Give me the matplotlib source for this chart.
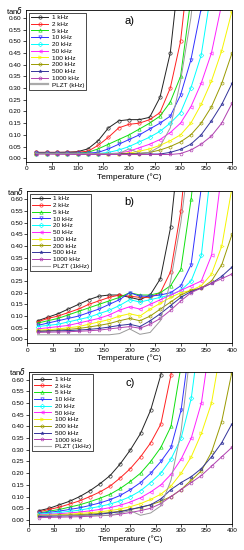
import numpy as np
import matplotlib
matplotlib.use("Agg")
import matplotlib.pyplot as plt

plt.rcParams['font.family'] = ['Liberation Sans', 'DejaVu Sans']

# Temperature grid (deg C), shared by every curve; shorter lists stop early
temps = [20, 40, 60, 80, 100, 120, 140, 160, 180, 200,
         220, 240, 260, 280, 300, 320, 340, 360, 380, 400]

freqLabels = ["1 kHz", "2 kHz", "5 kHz", "10 kHz", "20 kHz", "50 kHz",
              "100 kHz", "200 kHz", "500 kHz", "1000 kHz"]
plztLabels = ["PLZT (kHz)", "PLZT (1kHz)", "PLZT (1kHz)"]
panelNames = ["a)", "b)", "c)"]

# Panel a
a1k = [0.025, 0.025, 0.025, 0.026, 0.028, 0.040, 0.075, 0.130, 0.160, 0.165, 0.165, 0.175, 0.260, 0.450, 0.850]
a2k = [0.025, 0.025, 0.025, 0.025, 0.026, 0.030, 0.055, 0.090, 0.130, 0.145, 0.150, 0.165, 0.195, 0.300, 0.500, 0.900]
a5k = [0.022, 0.022, 0.022, 0.022, 0.022, 0.025, 0.040, 0.060, 0.080, 0.100, 0.125, 0.150, 0.180, 0.240, 0.350, 0.680]
a10k = [0.022, 0.022, 0.022, 0.022, 0.022, 0.022, 0.025, 0.040, 0.060, 0.080, 0.100, 0.125, 0.150, 0.180, 0.270, 0.420, 0.640]
a20k = [0.020, 0.020, 0.020, 0.020, 0.020, 0.020, 0.020, 0.025, 0.035, 0.050, 0.070, 0.090, 0.115, 0.150, 0.195, 0.300, 0.440, 0.720]
a50k = [0.020, 0.020, 0.020, 0.020, 0.020, 0.020, 0.020, 0.020, 0.022, 0.030, 0.045, 0.060, 0.080, 0.110, 0.150, 0.220, 0.320, 0.450, 0.660]
a100k = [0.020, 0.020, 0.020, 0.020, 0.020, 0.020, 0.020, 0.020, 0.020, 0.022, 0.030, 0.040, 0.055, 0.075, 0.100, 0.150, 0.230, 0.330, 0.460, 0.630]
a200k = [0.020, 0.020, 0.020, 0.020, 0.020, 0.020, 0.020, 0.020, 0.020, 0.020, 0.020, 0.025, 0.035, 0.050, 0.070, 0.100, 0.150, 0.220, 0.320, 0.450]
a500k = [0.020, 0.020, 0.020, 0.019, 0.019, 0.018, 0.018, 0.018, 0.018, 0.018, 0.018, 0.018, 0.018, 0.025, 0.038, 0.060, 0.100, 0.160, 0.230, 0.320]
a1000k = [0.018, 0.018, 0.017, 0.017, 0.016, 0.016, 0.016, 0.016, 0.016, 0.016, 0.016, 0.016, 0.016, 0.016, 0.020, 0.035, 0.060, 0.095, 0.150, 0.235]
aPlzt = [0.020, 0.020, 0.020, 0.020, 0.020, 0.020, 0.020, 0.020, 0.020, 0.040, 0.022, 0.025, 0.050, 0.130, 0.330, 0.600, 1.000]

# Panel b
b1k = [0.080, 0.095, 0.110, 0.130, 0.150, 0.170, 0.185, 0.190, 0.190, 0.180, 0.170, 0.190, 0.260, 0.480, 0.900]
b2k = [0.075, 0.090, 0.100, 0.115, 0.130, 0.150, 0.165, 0.180, 0.190, 0.185, 0.180, 0.180, 0.200, 0.290, 0.550, 1.000]
b5k = [0.070, 0.080, 0.090, 0.105, 0.120, 0.135, 0.150, 0.165, 0.180, 0.200, 0.190, 0.190, 0.200, 0.230, 0.300, 0.600, 1.000]
b10k = [0.060, 0.070, 0.080, 0.090, 0.100, 0.115, 0.130, 0.150, 0.170, 0.200, 0.185, 0.185, 0.190, 0.200, 0.230, 0.320, 0.650]
b20k = [0.055, 0.060, 0.065, 0.075, 0.085, 0.095, 0.110, 0.125, 0.145, 0.170, 0.160, 0.170, 0.180, 0.190, 0.210, 0.250, 0.360, 0.750]
b50k = [0.045, 0.050, 0.055, 0.060, 0.070, 0.080, 0.090, 0.105, 0.125, 0.140, 0.130, 0.150, 0.170, 0.190, 0.210, 0.230, 0.250, 0.360, 0.720]
b100k = [0.040, 0.042, 0.045, 0.050, 0.055, 0.065, 0.075, 0.085, 0.100, 0.110, 0.100, 0.130, 0.155, 0.180, 0.200, 0.210, 0.230, 0.280, 0.400, 0.650]
b200k = [0.035, 0.037, 0.040, 0.043, 0.047, 0.053, 0.060, 0.068, 0.080, 0.090, 0.080, 0.100, 0.130, 0.160, 0.190, 0.210, 0.220, 0.250, 0.320, 0.450]
b500k = [0.035, 0.036, 0.037, 0.038, 0.040, 0.043, 0.047, 0.053, 0.060, 0.065, 0.055, 0.080, 0.110, 0.145, 0.180, 0.205, 0.220, 0.240, 0.270, 0.310]
b1000k = [0.030, 0.031, 0.032, 0.033, 0.035, 0.037, 0.040, 0.045, 0.050, 0.055, 0.048, 0.065, 0.090, 0.125, 0.165, 0.200, 0.220, 0.240, 0.260, 0.280]
bPlzt = [0.020, 0.020, 0.020, 0.020, 0.020, 0.020, 0.020, 0.020, 0.025, 0.045, 0.022, 0.030, 0.080, 0.250, 0.500, 0.850]

# Panel c
c1k = [0.040, 0.050, 0.065, 0.080, 0.100, 0.125, 0.155, 0.190, 0.240, 0.300, 0.370, 0.470, 0.620, 0.900]
c2k = [0.035, 0.045, 0.055, 0.068, 0.082, 0.100, 0.120, 0.145, 0.180, 0.220, 0.270, 0.330, 0.410, 0.620, 1.000]
c5k = [0.030, 0.038, 0.045, 0.055, 0.065, 0.078, 0.093, 0.110, 0.135, 0.165, 0.200, 0.250, 0.310, 0.400, 0.660, 1.000]
c10k = [0.028, 0.033, 0.038, 0.045, 0.052, 0.062, 0.073, 0.087, 0.105, 0.130, 0.160, 0.200, 0.250, 0.310, 0.470, 0.800]
c20k = [0.025, 0.028, 0.032, 0.037, 0.042, 0.050, 0.058, 0.068, 0.082, 0.100, 0.125, 0.160, 0.200, 0.260, 0.350, 0.520, 0.850]
c50k = [0.022, 0.024, 0.027, 0.030, 0.034, 0.039, 0.045, 0.053, 0.063, 0.077, 0.095, 0.120, 0.150, 0.195, 0.260, 0.350, 0.500, 0.800]
c100k = [0.020, 0.021, 0.023, 0.025, 0.028, 0.031, 0.035, 0.040, 0.047, 0.057, 0.070, 0.088, 0.110, 0.145, 0.200, 0.270, 0.370, 0.500, 0.750]
c200k = [0.018, 0.019, 0.020, 0.021, 0.023, 0.025, 0.028, 0.032, 0.038, 0.045, 0.053, 0.065, 0.080, 0.100, 0.130, 0.170, 0.210, 0.290, 0.420, 0.630]
c500k = [0.015, 0.016, 0.017, 0.018, 0.019, 0.021, 0.025, 0.030, 0.035, 0.045, 0.055, 0.065, 0.090, 0.130, 0.160, 0.185, 0.220, 0.270, 0.330, 0.410]
c1000k = [0.010, 0.011, 0.012, 0.013, 0.014, 0.016, 0.018, 0.020, 0.025, 0.032, 0.040, 0.050, 0.070, 0.100, 0.130, 0.160, 0.190, 0.230, 0.270, 0.310]
cPlzt = [0.020, 0.020, 0.020, 0.020, 0.020, 0.020, 0.020, 0.020, 0.030, 0.040, 0.020, 0.030, 0.060, 0.170, 0.380, 0.750]

panelData = [
    [a1k, a2k, a5k, a10k, a20k, a50k, a100k, a200k, a500k, a1000k, aPlzt],
    [b1k, b2k, b5k, b10k, b20k, b50k, b100k, b200k, b500k, b1000k, bPlzt],
    [c1k, c2k, c5k, c10k, c20k, c50k, c100k, c200k, c500k, c1000k, cPlzt],
]

colors = ["#222222", "#ff2020", "#10e010", "#3030ff", "#00ffff", "#ff20ff",
          "#f5f500", "#9a9a00", "#33339a", "#b040b0"]
markers = ["o", "o", "^", "v", "D", "<", ">", "h", "*", "p"]

# axes rectangles in figure fraction
boxes = [
    [0.107, 0.7055, 0.844, 0.276],
    [0.112, 0.376, 0.839, 0.276],
    [0.119, 0.0478, 0.831, 0.276],
]


def drawPanel(ax, curves, plztLabel, name, thickPlzt):
    for i, vals in enumerate(curves[:10]):
        ax.plot(temps[:len(vals)], vals, color=colors[i], lw=0.7,
                marker=markers[i], ms=2.4, mfc="none", mew=0.45,
                label=freqLabels[i])
    plzt = curves[10]
    ax.plot(temps[:len(plzt)], plzt, color="#999999", lw=0.7, label="_nolegend_")
    # legend entry for the PLZT line (thicker in panel a)
    ax.plot([], [], color="#aaaaaa", lw=1.6 if thickPlzt else 0.8, label=plztLabel)

    ax.set_xlim(0, 400)
    ax.set_ylim(-0.016, 0.633)
    ax.set_xticks(np.arange(0, 401, 50))
    ax.set_yticks(np.arange(0, 0.61, 0.05))
    ax.set_yticklabels(["%.2f" % v for v in np.arange(0, 0.61, 0.05)])
    ax.tick_params(labelsize=4.6, length=2, width=0.5, pad=1.2)
    for s in ax.spines.values():
        s.set_linewidth(0.6)
    ax.set_xlabel("Temperature (\u00b0C)", fontsize=6, labelpad=1.5)
    ax.text(-0.015, 1.0, r"tan$\delta$", transform=ax.transAxes,
            ha="right", va="center", fontsize=5.5)
    ax.text(0.5, 0.93, name, transform=ax.transAxes, ha="center", va="center",
            fontsize=8)
    leg = ax.legend(loc="upper left", fontsize=4.6, frameon=True, fancybox=False,
                    edgecolor="black", framealpha=1, handlelength=2.8,
                    handletextpad=0.5, labelspacing=0.2, borderpad=0.3,
                    borderaxespad=0.4)
    leg.get_frame().set_linewidth(0.5)


fig = plt.figure(figsize=(2.44, 5.5), dpi=100)
for k in range(3):
    ax = fig.add_axes(boxes[k])
    drawPanel(ax, panelData[k], plztLabels[k], panelNames[k], k == 0)

fig.savefig("out.png", dpi=100)
